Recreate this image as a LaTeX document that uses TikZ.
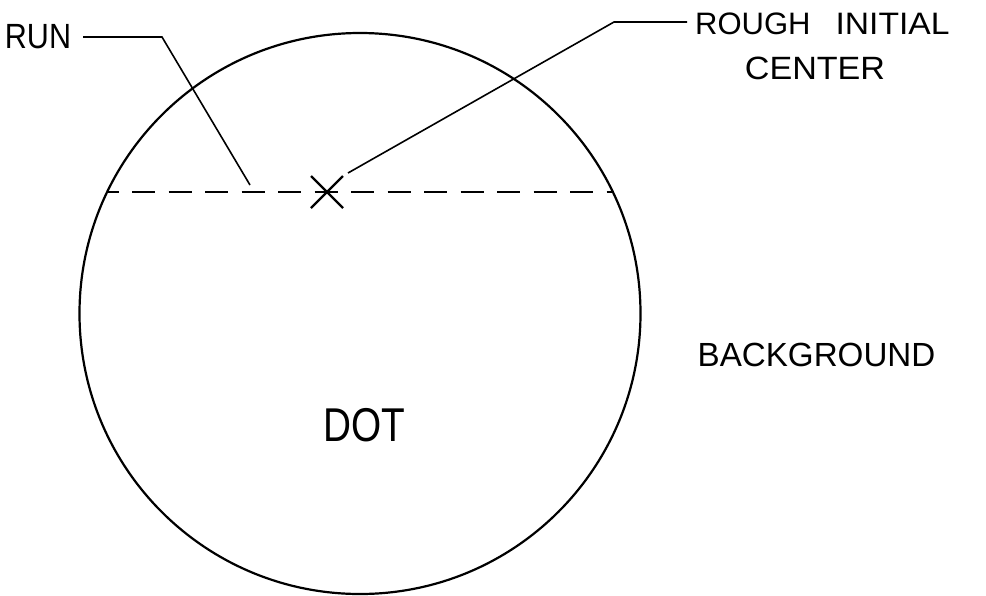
\documentclass[tikz,border=0pt]{standalone}
\usepackage{fontspec}
\setmainfont{Liberation Sans}
\usepackage{graphicx}
\newcommand{\lab}[3]{\scalebox{#1}[#2]{#3}}
\begin{document}
\begin{tikzpicture}[x=1pt,y=-1pt,
  lbl/.style={inner sep=0pt, font=\fontsize{31}{31}\selectfont},
  leader/.style={line width=1.6pt},
  outline/.style={line width=2.2pt},
  runline/.style={line width=1.9pt, dash pattern=on 23pt off 13.5pt, dash phase=11.5pt},
  cross/.style={line width=2.4pt}]
\useasboundingbox (0,0) rectangle (986,595);
% dot outline
\node (dotc) [circle, draw, outline, minimum size=561pt, inner sep=0pt] at (360,313.5) {};
% run (dashed chord)
\coordinate (runL) at (107,192);
\coordinate (runR) at (613,192);
\draw[runline] (runL) -- (runR);
% rough initial center mark
\coordinate (xc) at (327,192);
\draw[cross] ([shift={(-16,-16)}]xc) -- ([shift={(16,16)}]xc);
\draw[cross] ([shift={(-16,16)}]xc) -- ([shift={(16,-16)}]xc);
% labels
\node (run) [lbl] at (38,36.5) {\lab{0.985}{1.13}{RUN}};
\node (rough) [lbl, anchor=west] at (695,24) {ROUGH\hspace{25pt}\lab{1.085}{1}{INITIAL}};
\node (center) [lbl] at (815,68.5) {\lab{1.10}{1.04}{CENTER}};
\node (bg) [lbl] at (816.5,355) {\lab{1.07}{1.08}{BACKGROUND}};
\node (dot) [lbl] at (364,425) {\lab{1.25}{1.53}{DOT}};
% leaders
\coordinate (runA) at (83,37);
\coordinate (runB) at (162,37);
\coordinate (runC) at (250,185);
\draw[leader] (runA) -- (runB) -- (runC);
\coordinate (rA) at (348,173);
\coordinate (rB) at (614,22);
\coordinate (rC) at (687,22);
\draw[leader] (rA) -- (rB) -- (rC);
\end{tikzpicture}
\end{document}
